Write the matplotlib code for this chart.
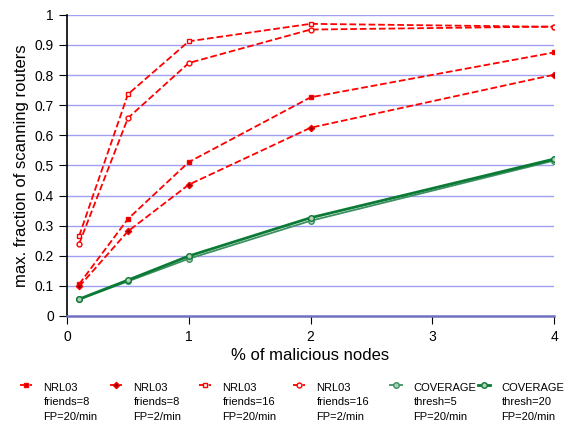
import numpy as np
import matplotlib
matplotlib.use("Agg")
import matplotlib.pyplot as plt
from matplotlib.legend_handler import HandlerLine2D

plt.rcParams['font.family'] = ['Liberation Sans', 'DejaVu Sans']

x = [0.1, 0.5, 1, 2, 4]

nrl_f8_fp20 = [0.106, 0.322, 0.511, 0.726, 0.875]
nrl_f8_fp2 = [0.098, 0.281, 0.436, 0.625, 0.801]
nrl_f16_fp20 = [0.266, 0.736, 0.912, 0.970, 0.960]
nrl_f16_fp2 = [0.240, 0.657, 0.840, 0.951, 0.961]
cov_t5 = [0.055, 0.115, 0.190, 0.316, 0.516]
cov_t20 = [0.056, 0.119, 0.199, 0.326, 0.521]

labels = ["NRL03\nfriends=8\nFP=20/min",
          "NRL03\nfriends=8\nFP=2/min",
          "NRL03\nfriends=16\nFP=20/min",
          "NRL03\nfriends=16\nFP=2/min",
          "COVERAGE\nthresh=5\nFP=20/min",
          "COVERAGE\nthresh=20\nFP=20/min"]


class TopLineHandler(HandlerLine2D):
    # put the legend line next to the first text line instead of the middle
    def create_artists(self, legend, orig_handle, xdescent, ydescent,
                       width, height, fontsize, trans):
        arts = super().create_artists(legend, orig_handle, xdescent, ydescent,
                                      width, height, fontsize, trans)
        for a in arts:
            a.set_ydata(np.asarray(a.get_ydata()) + 1.6 * fontsize)
        return arts


fig = plt.figure(figsize=(5.65, 4.23), dpi=100)
ax = fig.add_axes([0.1186, 0.253, 0.862, 0.712])

for v in np.arange(0.1, 1.01, 0.1):
    ax.axhline(v, color='#a0a0f0', lw=1, zorder=0)

red = '#ff0000'
lines = []
lines += ax.plot(x, nrl_f8_fp20, ls='--', color=red, lw=1.3, marker='s', ms=3.2,
                 mfc='#cc0000', mec=red)
lines += ax.plot(x, nrl_f8_fp2, ls='--', color=red, lw=1.3, marker='D', ms=3.2,
                 mfc='#990000', mec=red)
lines += ax.plot(x, nrl_f16_fp20, ls='--', color=red, lw=1.3, marker='s', ms=3.2,
                 mfc='white', mec=red)
lines += ax.plot(x, nrl_f16_fp2, ls='--', color=red, lw=1.3, marker='o', ms=3.5,
                 mfc='white', mec=red)
lines += ax.plot(x, cov_t5, ls='-', color='#3a9060', lw=1.3, marker='o', ms=4,
                 mfc='#b0d0b8', mec='#3a9060')
lines += ax.plot(x, cov_t20, ls='-', color='#0a7a35', lw=2, marker='o', ms=4,
                 mfc='#b0d0b8', mec='#0a7a35')

ax.set_xlim(0, 4)
ax.set_ylim(0, 1)
ax.set_xticks([0, 1, 2, 3, 4])
ax.set_xticklabels(['0', '1', '2', '3', '4'])
ax.set_yticks(np.round(np.arange(0, 1.01, 0.1), 1))
ax.set_yticklabels(['0', '0.1', '0.2', '0.3', '0.4', '0.5', '0.6', '0.7', '0.8', '0.9', '1'])
ax.tick_params(axis='both', labelsize=10, direction='out', length=6, color='black')
ax.tick_params(axis='x', length=6, pad=4)
for s in ['top', 'right']:
    ax.spines[s].set_visible(False)
ax.spines['bottom'].set_color('#7070c0')
ax.spines['bottom'].set_linewidth(1.8)
ax.spines['left'].set_color('black')
ax.spines['left'].set_linewidth(1.2)

ax.set_xlabel('% of malicious nodes', fontsize=12, labelpad=3)
ax.set_ylabel('max. fraction of scanning routers', fontsize=12, labelpad=4)

# one small legend per entry, laid out in a row under the plot
leg_x = [20, 110, 199, 293, 390, 478]
for px, h, lab in zip(leg_x, lines, labels):
    leg = fig.legend([h], [lab], loc='upper left',
                     bbox_to_anchor=(px / 565, 1 - 383 / 423),
                     frameon=False, fontsize=8, borderpad=0, borderaxespad=0,
                     handlelength=1.1, handletextpad=1.0,
                     handler_map={h: TopLineHandler()})
    for t in leg.get_texts():
        t.set_linespacing(1.55)

fig.savefig('out.png', dpi=100)
